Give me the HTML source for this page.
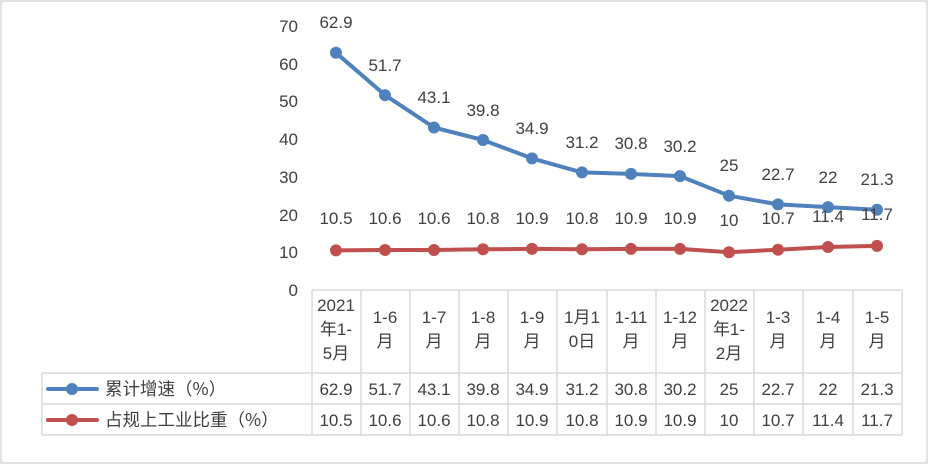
<!DOCTYPE html><html><head><meta charset="utf-8"><style>body{margin:0;background:#fff}svg{display:block}text{font-family:"Liberation Sans","Noto Sans CJK SC",sans-serif;fill:#404040;font-size:17px}text.cj{font-family:"Noto Sans CJK SC",sans-serif;font-size:17.5px}</style></head><body>
<svg width="928" height="465" xmlns="http://www.w3.org/2000/svg">
<rect x="1" y="1" width="926" height="462" fill="#fff" stroke="#d9d9d9" stroke-width="1.5"/>
<g text-anchor="end">
<text x="298" y="32">70</text><text x="298" y="70">60</text><text x="298" y="107">50</text><text x="298" y="145">40</text><text x="298" y="183">30</text><text x="298" y="221">20</text><text x="298" y="258">10</text><text x="298" y="296">0</text>
</g>
<g stroke="#d9d9d9" stroke-width="1.5" fill="none">
<line x1="312" y1="290" x2="902" y2="290"/>
<line x1="42" y1="373" x2="902" y2="373"/>
<line x1="42" y1="404" x2="902" y2="404"/>
<line x1="42" y1="435" x2="902" y2="435"/>
<line x1="42" y1="373" x2="42" y2="435"/>
<line x1="312" y1="290" x2="312" y2="435"/>
<line x1="361" y1="290" x2="361" y2="435"/><line x1="410" y1="290" x2="410" y2="435"/><line x1="459" y1="290" x2="459" y2="435"/><line x1="508" y1="290" x2="508" y2="435"/><line x1="557" y1="290" x2="557" y2="435"/><line x1="607" y1="290" x2="607" y2="435"/><line x1="656" y1="290" x2="656" y2="435"/><line x1="705" y1="290" x2="705" y2="435"/><line x1="754" y1="290" x2="754" y2="435"/><line x1="803" y1="290" x2="803" y2="435"/><line x1="853" y1="290" x2="853" y2="435"/><line x1="902" y1="290" x2="902" y2="435"/>
</g>
<g text-anchor="middle">
<text x="336" y="311">2021</text><text x="336" y="335">年1-</text><text x="336" y="359">5月</text>
<text x="385" y="323">1-6</text><text x="385" y="347">月</text>
<text x="434" y="323">1-7</text><text x="434" y="347">月</text>
<text x="483" y="323">1-8</text><text x="483" y="347">月</text>
<text x="532" y="323">1-9</text><text x="532" y="347">月</text>
<text x="582" y="323">1月1</text><text x="582" y="347">0日</text>
<text x="631" y="323">1-11</text><text x="631" y="347">月</text>
<text x="680" y="323">1-12</text><text x="680" y="347">月</text>
<text x="729" y="311">2022</text><text x="729" y="335">年1-</text><text x="729" y="359">2月</text>
<text x="778" y="323">1-3</text><text x="778" y="347">月</text>
<text x="828" y="323">1-4</text><text x="828" y="347">月</text>
<text x="877" y="323">1-5</text><text x="877" y="347">月</text>
</g>
<g text-anchor="middle">
<text x="336" y="395">62.9</text><text x="385" y="395">51.7</text><text x="434" y="395">43.1</text><text x="483" y="395">39.8</text><text x="532" y="395">34.9</text><text x="582" y="395">31.2</text><text x="631" y="395">30.8</text><text x="680" y="395">30.2</text><text x="729" y="395">25</text><text x="778" y="395">22.7</text><text x="828" y="395">22</text><text x="877" y="395">21.3</text>
<text x="336" y="426">10.5</text><text x="385" y="426">10.6</text><text x="434" y="426">10.6</text><text x="483" y="426">10.8</text><text x="532" y="426">10.9</text><text x="582" y="426">10.8</text><text x="631" y="426">10.9</text><text x="680" y="426">10.9</text><text x="729" y="426">10</text><text x="778" y="426">10.7</text><text x="828" y="426">11.4</text><text x="877" y="426">11.7</text>
</g>
<line x1="48" y1="389" x2="97" y2="389" stroke="#4f81bd" stroke-width="4" stroke-linecap="round"/><circle cx="72" cy="389" r="6" fill="#4f81bd"/>
<text class="cj" x="105" y="395">累计增速（%）</text>
<line x1="48" y1="420" x2="97" y2="420" stroke="#c0504d" stroke-width="4" stroke-linecap="round"/><circle cx="72" cy="420" r="6" fill="#c0504d"/>
<text class="cj" x="105" y="426">占规上工业比重（%）</text>
<polyline fill="none" stroke="#4f81bd" stroke-width="4" stroke-linejoin="round" points="336,52.8 385,95.1 434,127.5 483,140 532,158.4 582,172.4 631,173.9 680,176.1 729,195.7 778,204.4 828,207.1 877,209.7"/>
<g fill="#4f81bd"><circle cx="336" cy="52.8" r="6"/><circle cx="385" cy="95.1" r="6"/><circle cx="434" cy="127.5" r="6"/><circle cx="483" cy="140" r="6"/><circle cx="532" cy="158.4" r="6"/><circle cx="582" cy="172.4" r="6"/><circle cx="631" cy="173.9" r="6"/><circle cx="680" cy="176.1" r="6"/><circle cx="729" cy="195.7" r="6"/><circle cx="778" cy="204.4" r="6"/><circle cx="828" cy="207.1" r="6"/><circle cx="877" cy="209.7" r="6"/></g>
<polyline fill="none" stroke="#c0504d" stroke-width="4" stroke-linejoin="round" points="336,250.4 385,250 434,250 483,249.3 532,248.9 582,249.3 631,248.9 680,248.9 729,252.3 778,249.7 828,247 877,245.9"/>
<g fill="#c0504d"><circle cx="336" cy="250.4" r="6"/><circle cx="385" cy="250" r="6"/><circle cx="434" cy="250" r="6"/><circle cx="483" cy="249.3" r="6"/><circle cx="532" cy="248.9" r="6"/><circle cx="582" cy="249.3" r="6"/><circle cx="631" cy="248.9" r="6"/><circle cx="680" cy="248.9" r="6"/><circle cx="729" cy="252.3" r="6"/><circle cx="778" cy="249.7" r="6"/><circle cx="828" cy="247" r="6"/><circle cx="877" cy="245.9" r="6"/></g>
<g text-anchor="middle">
<text x="336" y="28">62.9</text><text x="385" y="71">51.7</text><text x="434" y="103">43.1</text><text x="483" y="116">39.8</text><text x="532" y="134">34.9</text><text x="582" y="148">31.2</text><text x="631" y="149">30.8</text><text x="680" y="152">30.2</text><text x="729" y="171">25</text><text x="778" y="180">22.7</text><text x="828" y="183">22</text><text x="877" y="185">21.3</text>
<text x="336" y="224">10.5</text><text x="385" y="224">10.6</text><text x="434" y="224">10.6</text><text x="483" y="224">10.8</text><text x="532" y="224">10.9</text><text x="582" y="224">10.8</text><text x="631" y="224">10.9</text><text x="680" y="224">10.9</text><text x="729" y="226">10</text><text x="778" y="224">10.7</text><text x="828" y="222">11.4</text><text x="877" y="220">11.7</text>
</g>
</svg></body></html>
